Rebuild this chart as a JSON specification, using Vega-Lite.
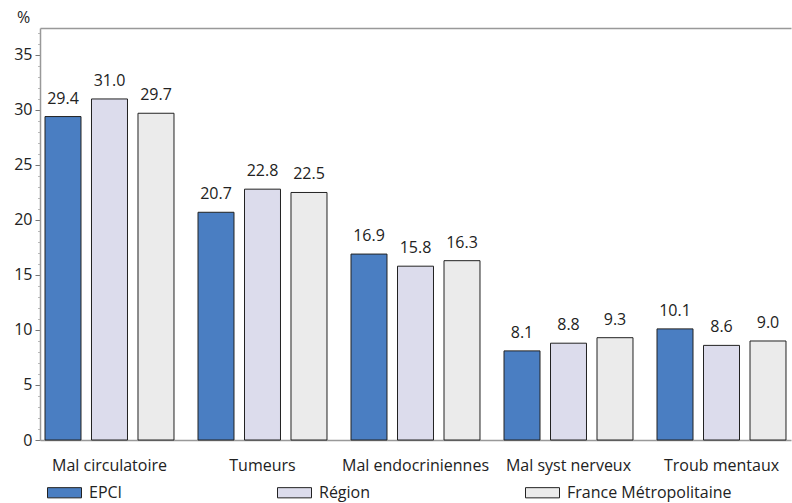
{
  "$schema": "https://vega.github.io/schema/vega-lite/v6.json",
  "width": 751,
  "height": 412,
  "autosize": "none",
  "padding": {"left": 40, "top": 28, "right": 1, "bottom": 63},
  "config": {"font": "Open Sans", "view": {"stroke": null}},
  "data": {
    "values": [
      {"cause": "Mal circulatoire", "serie": "EPCI", "value": 29.4},
      {"cause": "Mal circulatoire", "serie": "Région", "value": 31.0},
      {"cause": "Mal circulatoire", "serie": "France Métropolitaine", "value": 29.7},
      {"cause": "Tumeurs", "serie": "EPCI", "value": 20.7},
      {"cause": "Tumeurs", "serie": "Région", "value": 22.8},
      {"cause": "Tumeurs", "serie": "France Métropolitaine", "value": 22.5},
      {"cause": "Mal endocriniennes", "serie": "EPCI", "value": 16.9},
      {"cause": "Mal endocriniennes", "serie": "Région", "value": 15.8},
      {"cause": "Mal endocriniennes", "serie": "France Métropolitaine", "value": 16.3},
      {"cause": "Mal syst nerveux", "serie": "EPCI", "value": 8.1},
      {"cause": "Mal syst nerveux", "serie": "Région", "value": 8.8},
      {"cause": "Mal syst nerveux", "serie": "France Métropolitaine", "value": 9.3},
      {"cause": "Troub mentaux", "serie": "EPCI", "value": 10.1},
      {"cause": "Troub mentaux", "serie": "Région", "value": 8.6},
      {"cause": "Troub mentaux", "serie": "France Métropolitaine", "value": 9.0}
    ]
  },
  "encoding": {
    "x": {
      "field": "cause", "type": "nominal",
      "sort": ["Mal circulatoire", "Tumeurs", "Mal endocriniennes", "Mal syst nerveux", "Troub mentaux"],
      "scale": {"paddingInner": 0.157, "paddingOuter": 0.0327},
      "axis": {"title": null, "labelAngle": 0, "ticks": false, "labelPadding": 17, "labelFontSize": 16, "labelColor": "#222", "domainColor": "#999", "domainWidth": 1.5}
    },
    "xOffset": {
      "field": "serie", "type": "nominal",
      "sort": ["EPCI", "Région", "France Métropolitaine"],
      "scale": {"paddingInner": 0.226, "paddingOuter": 0}
    },
    "y": {
      "field": "value", "type": "quantitative",
      "scale": {"domain": [0, 37.45], "nice": false},
      "axis": {
        "title": "%", "titleAngle": 0, "titleX": -17, "titleY": -11, "titleAlign": "center", "titleBaseline": "middle",
        "titleFontWeight": "normal", "titleFontSize": 16, "titleColor": "#222",
        "values": [0,1,2,3,4,5,6,7,8,9,10,11,12,13,14,15,16,17,18,19,20,21,22,23,24,25,26,27,28,29,30,31,32,33,34,35,36,37,37.45],
        "labelExpr": "datum.value % 5 === 0 ? datum.label : ''",
        "labelOverlap": false, "labelFontSize": 16, "labelPadding": 3, "labelColor": "#222",
        "tickSize": {"condition": {"test": "datum.value % 5 === 0", "value": 5}, "value": 2.5},
        "tickColor": {"condition": {"test": "datum.value % 5 === 0", "value": "#777"}, "value": "#bbb"},
        "tickOpacity": {"condition": {"test": "datum.value > 37.2", "value": 0}, "value": 1},
        "grid": true,
        "gridColor": "#999",
        "gridWidth": 1.5,
        "gridOpacity": {"condition": {"test": "datum.value > 37.2", "value": 1}, "value": 0},
        "domainColor": "#999", "domainWidth": 1.5
      }
    }
  },
  "layer": [
    {
      "mark": {"type": "bar", "stroke": "#222", "strokeWidth": 1},
      "encoding": {
        "color": {
          "field": "serie", "type": "nominal",
          "scale": {"domain": ["EPCI", "Région", "France Métropolitaine"], "range": ["#4A7EC2", "#DCDCEC", "#EBEBEB"]},
          "legend": {
            "title": null, "orient": "none", "legendX": 7, "legendY": 447, "direction": "horizontal", "columns": 3,
            "columnPadding": 152, "symbolType": "M-1,-0.3H1V0.3H-1Z", "symbolSize": 1156,
            "symbolStrokeColor": "#222", "symbolStrokeWidth": 1, "symbolOpacity": 1,
            "labelFontSize": 16, "labelOffset": 7, "labelColor": "#222", "labelLimit": 300, "padding": 0
          }
        }
      }
    },
    {
      "mark": {"type": "text", "dy": -10, "baseline": "bottom", "fontSize": 16, "color": "#222"},
      "encoding": {
        "text": {"field": "value", "type": "quantitative", "format": ".1f"}
      }
    }
  ]
}
